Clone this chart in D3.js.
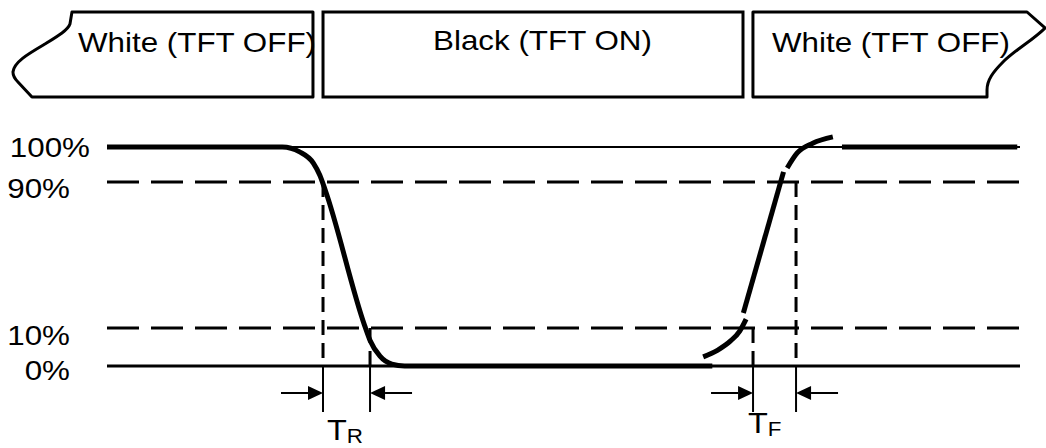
<!DOCTYPE html>
<html><head><meta charset="utf-8">
<script src="https://cdn.jsdelivr.net/npm/d3@7"></script>
<style>html,body{margin:0;padding:0;background:#fff}svg{display:block}</style>
</head><body><svg id="c" width="1046" height="448"></svg>
<script>
// ---------- data ----------
const levels = [0, 10, 90, 100];
const levelLabels = ["0%", "10%", "90%", "100%"];
const levelDashed = [false, true, true, false];

const stateLabels = ["White (TFT OFF)", "Black (TFT ON)", "White (TFT OFF)"];
const stateStart = [-10.3, 23.66, 70.75];
const stateEnd = [22.56, 69.66, 102.74];

// falling response (white -> black), time units vs percent
const fallT = [0, 19.2, 21.1, 22.6, 23.3, 23.9, 28.2, 28.8, 29.9, 31.2, 32.6, 66.3];
const fallP = [100, 100, 98.6, 95.4, 92, 85.6, 11.6, 6.8, 2.6, 0.5, 0, 0];

// rising response (black -> white), drawn as separate strokes
const riseSegT = [[65.3, 66.9, 68.3, 69.3, 70.0], [69.7, 74.1], [74.5, 75.6, 77.3, 79.5], [80.5, 99.7]];
const riseSegP = [[2.4, 4.2, 6.6, 9.2, 14.9], [18.2, 92.9], [94, 98.3, 101.1, 102.9], [100, 100]];

const markerT = [23.66, 28.81, 70.76, 75.47];
const markerLevel = [90, 10, 10, 90];

const spanMain = ["T", "T"];
const spanSub = ["R", "F"];
const spanStart = [23.66, 70.76];
const spanEnd = [28.81, 75.47];

// ---------- layout ----------
const W = 1046, H = 448;
const FONT = "'Liberation Sans', Arial, Helvetica, sans-serif";
const SX = 1.12;
const svg = d3.select("#c");
svg.append("rect").attr("width", W).attr("height", H).attr("fill", "#fff");

const x = d3.scaleLinear().domain([0, 100]).range([107, 1020]);
const y = d3.scaleLinear().domain([0, 10, 90, 100]).range([366, 328, 182, 147]);

const bTop = 12, bBot = 97;
const g = svg.append("g").attr("fill", "none").attr("stroke", "#000");

// ---------- banner ----------
{
  const x0 = x(stateStart[0]), xe = x(stateEnd[0]);
  const p = d3.path();
  p.moveTo(x0 + 59, bTop); p.lineTo(xe, bTop); p.lineTo(xe, bBot); p.lineTo(x0 + 19, bBot);
  p.lineTo(x0 + 5, 82);
  p.bezierCurveTo(x0 + 3, 80, x0, 76, x0, 72);
  p.bezierCurveTo(x0 + 1, 62, x0 + 15, 54, x0 + 32, 44);
  p.bezierCurveTo(x0 + 45, 36, x0 + 55, 30, x0 + 57, 24);
  p.closePath();
  g.append("path").attr("d", p.toString()).attr("stroke-width", 3).attr("stroke-linejoin", "round");

  g.append("rect").attr("x", x(stateStart[1])).attr("y", bTop)
    .attr("width", x(stateEnd[1]) - x(stateStart[1])).attr("height", bBot - bTop).attr("stroke-width", 3);

  const l = x(stateStart[2]), x1 = x(stateEnd[2]);
  const q = d3.path();
  q.moveTo(l, bTop); q.lineTo(x1 - 18, bTop); q.lineTo(x1, 28);
  q.bezierCurveTo(x1 - 12, 40, x1 - 30, 50, x1 - 42, 62);
  q.bezierCurveTo(x1 - 52, 72, x1 - 58, 80, x1 - 58, 90);
  q.lineTo(x1 - 58, bBot); q.lineTo(l, bBot); q.closePath();
  g.append("path").attr("d", q.toString()).attr("stroke-width", 3).attr("stroke-linejoin", "round");

  const textDx = [65, 110, 19];
  const textY = [52, 50, 52];
  stateLabels.forEach((s, i) => {
    svg.append("text").text(s)
      .attr("transform", `translate(${x(stateStart[i]) + textDx[i]},${textY[i]}) scale(${SX},1)`)
      .attr("font-family", FONT).attr("font-size", 28).attr("fill", "#000");
  });
}

// ---------- level lines ----------
const levelWidth = [3, 3, 3, 2];
levels.forEach((lv, i) => {
  g.append("line").attr("x1", x(0)).attr("x2", x(100)).attr("y1", y(lv)).attr("y2", y(lv))
    .attr("stroke-width", levelWidth[i])
    .attr("stroke-dasharray", levelDashed[i] ? "32,12" : null);
});
const labelDy = [14, 17, 16, 10];
const labelX = [70, 70, 70, 90];
levels.forEach((lv, i) => {
  svg.append("text").text(levelLabels[i])
    .attr("transform", `translate(${labelX[i]},${y(lv) + labelDy[i]}) scale(${SX},1)`)
    .attr("text-anchor", "end").attr("font-family", FONT).attr("font-size", 28).attr("fill", "#000");
});

// ---------- marker verticals ----------
const yTick = 412;
markerT.forEach((t, i) => {
  g.append("line").attr("x1", x(t)).attr("x2", x(t)).attr("y1", y(markerLevel[i])).attr("y2", y(0))
    .attr("stroke-width", 3).attr("stroke-dasharray", "15,8");
  g.append("line").attr("x1", x(t)).attr("x2", x(t)).attr("y1", y(0)).attr("y2", yTick)
    .attr("stroke-width", 2);
});

// ---------- response curves ----------
const line = d3.line().x(d => x(d[0])).y(d => y(d[1])).curve(d3.curveMonotoneX);
g.append("path").attr("d", line(fallT.map((t, i) => [t, fallP[i]])))
  .attr("stroke-width", 5).attr("stroke-linejoin", "round");
riseSegT.forEach((ts, k) => {
  g.append("path").attr("d", line(ts.map((t, i) => [t, riseSegP[k][i]])))
    .attr("stroke-width", 5);
});

// ---------- arrows & labels ----------
const ay = 393, aLen = 42, hLen = 15, hW = 7;
function arrow(tip, dir) { // dir = +1 pointing right, -1 pointing left
  g.append("line").attr("x1", tip - dir * aLen).attr("x2", tip - dir * hLen).attr("y1", ay).attr("y2", ay)
    .attr("stroke-width", 2);
  svg.append("path").attr("d", `M${tip},${ay}L${tip - dir * hLen},${ay - hW}L${tip - dir * hLen},${ay + hW}Z`)
    .attr("fill", "#000");
}
const mainDx = [4, -5], mainY = [440, 433], subY = [443, 436], subSize = [20, 20];
spanStart.forEach((s, i) => {
  arrow(x(s), 1);
  arrow(x(spanEnd[i]), -1);
  const t = svg.append("text")
    .attr("transform", `translate(${x(s) + mainDx[i]},${mainY[i]}) scale(${SX},1)`)
    .attr("font-family", FONT).attr("font-size", 29).attr("fill", "#000");
  t.append("tspan").text(spanMain[i]);
  t.append("tspan").text(spanSub[i]).attr("font-size", subSize[i]).attr("dy", subY[i] - mainY[i]);
});
</script></body></html>
